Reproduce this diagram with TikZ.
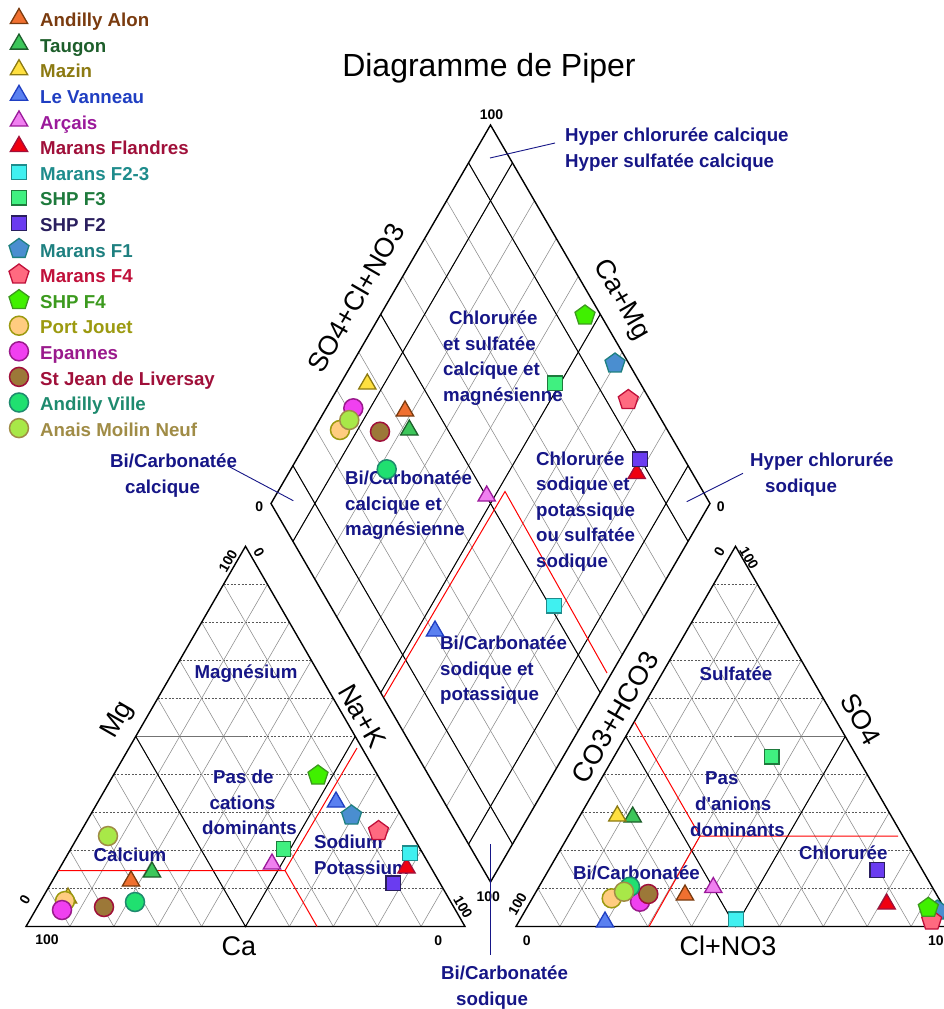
\documentclass[tikz,border=0pt]{standalone}
\usepackage{fontspec}
\setmainfont{Liberation Sans}
\usetikzlibrary{calc,shapes.geometric}
\definecolor{navyl}{RGB}{22,22,135}
\definecolor{AAc}{HTML}{7A3B0F}\definecolor{AAf}{HTML}{F07030}
\definecolor{TAc}{HTML}{1D5E2B}\definecolor{TAf}{HTML}{3CC65A}
\definecolor{MZc}{HTML}{8C7A12}\definecolor{MZf}{HTML}{FFE040}
\definecolor{LVc}{HTML}{1F3EC2}\definecolor{LVf}{HTML}{5A80F0}
\definecolor{ARc}{HTML}{9B1A9B}\definecolor{ARf}{HTML}{F080F0}
\definecolor{MFc}{HTML}{A0103A}\definecolor{MFf}{HTML}{F00010}
\definecolor{FTc}{HTML}{1E8C8C}\definecolor{FTf}{HTML}{40F0F0}
\definecolor{FXc}{HTML}{1E7A3C}\definecolor{FXf}{HTML}{40F080}
\definecolor{FYc}{HTML}{2A1F5E}\definecolor{FYf}{HTML}{6A3CF0}
\definecolor{FOc}{HTML}{1E8080}\definecolor{FOf}{HTML}{4A8ED0}
\definecolor{FQc}{HTML}{C0103A}\definecolor{FQf}{HTML}{FF6A80}
\definecolor{SQc}{HTML}{3C9A1E}\definecolor{SQf}{HTML}{40F000}
\definecolor{PJc}{HTML}{9C9A10}\definecolor{PJf}{HTML}{FFCC80}
\definecolor{EPc}{HTML}{9A1A8C}\definecolor{EPf}{HTML}{F040F0}
\definecolor{SJc}{HTML}{A0103A}\definecolor{SJf}{HTML}{9C7838}
\definecolor{AVc}{HTML}{1E8A6E}\definecolor{AVf}{HTML}{20E070}
\definecolor{AMc}{HTML}{A08C46}\definecolor{AMf}{HTML}{A8E848}
\newcommand\fLab{\fontsize{18.7}{25.6}\selectfont\bfseries}
\newcommand\fAxis{\fontsize{27}{30}\selectfont}
\newcommand\fNum{\fontsize{14}{16}\selectfont\bfseries}
\newcommand\fTitle{\fontsize{32}{36}\selectfont}
\tikzset{
  mtri/.style={regular polygon, regular polygon sides=3, minimum size=20pt, inner sep=0pt, line width=1.3pt, draw},
  msq/.style={rectangle, minimum size=14.5pt, inner sep=0pt, line width=1.3pt, draw},
  mpent/.style={regular polygon, regular polygon sides=5, minimum size=21pt, inner sep=0pt, line width=1.3pt, draw},
  mcirc/.style={circle, minimum size=19pt, inner sep=0pt, line width=1.5pt, draw},
  sAA/.style={mtri, draw=AAc, fill=AAf},
  sTA/.style={mtri, draw=TAc, fill=TAf},
  sMZ/.style={mtri, draw=MZc, fill=MZf},
  sLV/.style={mtri, draw=LVc, fill=LVf},
  sAR/.style={mtri, draw=ARc, fill=ARf},
  sMF/.style={mtri, draw=MFc, fill=MFf},
  sFT/.style={msq, draw=FTc, fill=FTf},
  sFX/.style={msq, draw=FXc, fill=FXf},
  sFY/.style={msq, draw=FYc, fill=FYf},
  sFO/.style={mpent, draw=FOc, fill=FOf},
  sFQ/.style={mpent, draw=FQc, fill=FQf},
  sSQ/.style={mpent, draw=SQc, fill=SQf},
  sPJ/.style={mcirc, draw=PJc, fill=PJf},
  sEP/.style={mcirc, draw=EPc, fill=EPf},
  sSJ/.style={mcirc, draw=SJc, fill=SJf},
  sAV/.style={mcirc, draw=AVc, fill=AVf},
  sAM/.style={mcirc, draw=AMc, fill=AMf},
  hgrid/.style={draw=black!65, dash pattern=on 2pt off 1.6pt, line width=0.6pt},
  dgrid/.style={draw=black!45, line width=0.55pt},
  midg/.style={draw=black!55, line width=0.9pt},
  frame/.style={draw=black, line width=1.4pt, line join=miter},
  blk/.style={draw=black, line width=1pt},
  redl/.style={draw=red, line width=1pt},
  ptr/.style={draw=navyl, line width=0.9pt},
  lab/.style={font=\fLab, text=navyl, inner sep=0pt, align=left},
  axl/.style={font=\fAxis, inner sep=0pt},
  num/.style={font=\fNum, inner sep=0pt},
}
\newcommand\mk[3]{\node[s#1] (#1#2) at (#3) {};}
\newcommand\legrow[3]{%
  \node[s#2] (lg#2) at (19,{18.5+25.6*#1}) {};
  \node[anchor=base west, font=\fLab, text=#2c, inner sep=0pt] (lt#2) at (40,{26.7+25.6*#1}) {#3};}
\begin{document}
\begin{tikzpicture}[x=1pt,y=-1pt]
\useasboundingbox (0,0) rectangle (944,1009);
\fill[white] (0,0) rectangle (944,1009);
% corner coordinates
\coordinate (LA) at (26,926.5);  \coordinate (LB) at (465,926.5);  \coordinate (LC) at (245.5,546.3);
\coordinate (RA) at (516,926.5); \coordinate (RB) at (955,926.5);  \coordinate (RC) at (735.5,546.3);
\coordinate (DB) at (490.5,882); \coordinate (DL) at (271,503.5);  \coordinate (DR) at (710,503.5); \coordinate (DT) at (490.5,125);
% ---------- grids
\foreach \i in {1,2,3,4,6,7,8,9}{
  \draw[hgrid] ($(LA)!\i/10!(LC)$) -- ($(LB)!\i/10!(LC)$);
  \draw[hgrid] ($(RA)!\i/10!(RC)$) -- ($(RB)!\i/10!(RC)$);
}
\foreach \i in {1,...,9}{
  \draw[dgrid] ($(LA)!\i/10!(LB)$) -- ($(LC)!\i/10!(LB)$);
  \draw[dgrid] ($(LB)!\i/10!(LA)$) -- ($(LC)!\i/10!(LA)$);
  \draw[dgrid] ($(RA)!\i/10!(RB)$) -- ($(RC)!\i/10!(RB)$);
  \draw[dgrid] ($(RB)!\i/10!(RA)$) -- ($(RC)!\i/10!(RA)$);
  \draw[dgrid] ($(DB)!\i/10!(DR)$) -- ($(DL)!\i/10!(DT)$);
  \draw[dgrid] ($(DB)!\i/10!(DL)$) -- ($(DR)!\i/10!(DT)$);
}
% mid lines
\coordinate (LM) at ($(LA)!0.5!(LC)$); \coordinate (LN) at ($(LB)!0.5!(LC)$);
\coordinate (LO) at ($(LA)!0.5!(LB)$); \coordinate (LP) at ($(LM)!0.5!(LN)$);
\coordinate (RM) at ($(RA)!0.5!(RC)$); \coordinate (RN) at ($(RB)!0.5!(RC)$);
\coordinate (RO) at ($(RA)!0.5!(RB)$); \coordinate (RP) at ($(RM)!0.5!(RN)$);
\draw[midg] (LM) -- (LP); \draw[hgrid] (LP) -- (LN);
\draw[hgrid] (RM) -- (RP); \draw[midg] (RP) -- (RN);
\draw[blk] (LM) -- (LO) -- (LN);
\draw[blk] (RM) -- (RO) -- (RN);
\foreach \f in {0.1,0.5,0.9}{
  \draw[blk] ($(DB)!\f!(DR)$) -- ($(DL)!\f!(DT)$);
  \draw[blk] ($(DB)!\f!(DL)$) -- ($(DR)!\f!(DT)$);
}
% frames
\draw[frame] (LA) -- (LB) -- (LC) -- cycle;
\draw[frame] (RA) -- (RB) -- (RC) -- cycle;
\draw[frame] (DB) -- (DR) -- (DT) -- (DL) -- cycle;
% red lines
\coordinate (rl1) at (58.2,870.5); \coordinate (rlP) at (285,870.5);
\coordinate (rl2) at (357,748);    \coordinate (rl3) at (317,926.5);
\draw[redl] (rl1) -- (rlP) -- (rl2); \draw[redl] (rlP) -- (rl3);
\coordinate (rd1) at (384,697); \coordinate (rd2) at (505,491.5); \coordinate (rd3) at (607,673);
\draw[redl] (rd1) -- (rd2) -- (rd3);
\coordinate (rr1) at (634.5,722); \coordinate (rrQ) at (700,836);
\coordinate (rr2) at (898,836);   \coordinate (rr3) at (649,926.5);
\draw[redl] (rr1) -- (rrQ) -- (rr2); \draw[redl] (rrQ) -- (rr3);
% title
\node[font=\fTitle, anchor=base, inner sep=0pt] (title) at (489,76.5) {Diagramme de Piper};
% axis labels
\node[axl, rotate=60]  (axSO) at (356,298) {SO4+Cl+NO3};
\node[axl, rotate=-60] (axCM) at (621,300) {Ca+Mg};
\node[axl, rotate=-60] (axNK) at (362,716) {Na+K};
\node[axl, rotate=60]  (axCO) at (615,717) {CO3+HCO3};
\node[axl, rotate=60]  (axMg) at (118,720) {Mg};
\node[axl, rotate=-60] (axS4) at (861,719) {SO4};
\node[axl] (axCa) at (239,946) {Ca};
\node[axl] (axCl) at (728,946) {Cl+NO3};
% numbers
\node[num] (n1) at (47,940) {100};
\node[num] (n2) at (438.3,940.7) {0};
\node[num, rotate=60] (n3) at (25,900) {0};
\node[num, rotate=60] (n4) at (228,561) {100};
\node[num, rotate=-60] (n5) at (259,552) {0};
\node[num, rotate=-60] (n6) at (463,907) {100};
\node[num, rotate=60] (n7) at (517.5,904) {100};
\node[num] (n8) at (526.7,940.7) {0};
\node[num, rotate=60] (n9) at (719.3,551.7) {0};
\node[num, rotate=-60] (n10) at (749,558) {100};
\node[num, anchor=west] (n11) at (928,940.7) {100};
\node[num] (n12) at (491.5,115) {100};
\node[num] (n13) at (488.3,896.7) {100};
\node[num] (n14) at (259.3,506.7) {0};
\node[num] (n15) at (720.7,506.7) {0};
% region labels
\node[lab, anchor=north west] (lD1) at (443,310.8) {\hspace*{6pt}Chlorurée\\et sulfatée\\calcique et\\magnésienne};
\node[lab, anchor=north west] (lD2) at (345,470.8) {Bi/Carbonatée\\calcique et\\magnésienne};
\node[lab, anchor=north west] (lD3) at (536,451.1) {Chlorurée\\sodique et\\potassique\\ou sulfatée\\sodique};
\node[lab, anchor=north west] (lD4) at (440,635.5) {Bi/Carbonatée\\sodique et\\potassique};
\node[lab, anchor=north west] (hyp1) at (565,127.8) {Hyper chlorurée calcique\\Hyper sulfatée calcique};
\node[lab, anchor=north west] (hyp2) at (750,452.8) {Hyper chlorurée\\\hspace*{15pt}sodique};
\node[lab, anchor=north west] (bcc) at (110,453.8) {Bi/Carbonatée\\\hspace*{15pt}calcique};
\node[lab, anchor=north west] (bcs) at (441,965.8) {Bi/Carbonatée\\\hspace*{15pt}sodique};
\node[lab, anchor=base] (lMg) at (246,678.7) {Magnésium};
\node[lab, anchor=north west] (lPc) at (202,769.8) {\hspace*{11pt}Pas de\\\hspace*{7.5pt}cations\\dominants};
\node[lab, anchor=base] (lCa) at (130,861.7) {Calcium};
\node[lab, anchor=north west] (lNa) at (314,834.8) {Sodium\\Potassium};
\node[lab, anchor=base] (lSu) at (736,680.7) {Sulfatée};
\node[lab, anchor=north west] (lPa) at (690,771.8) {\hspace*{15pt}Pas\\\hspace*{5pt}d\textquotesingle anions\\dominants};
\node[lab, anchor=base west] (lCl) at (799,859.7) {Chlorurée};
\node[lab, anchor=base east] (lBi) at (700,879.7) {Bi/Carbonatée};
% pointers
\coordinate (p1a) at (490,158); \coordinate (p1b) at (555,143);
\coordinate (p2a) at (686.7,501.7); \coordinate (p2b) at (743,473.3);
\coordinate (p3a) at (228,466); \coordinate (p3b) at (293.3,500.7);
\coordinate (p4a) at (490,844); \coordinate (p4b) at (490,955);
\draw[ptr] (p1a) -- (p1b); \draw[ptr] (p2a) -- (p2b);
\draw[ptr] (p3a) -- (p3b); \draw[ptr] (p4a) -- (p4b);
% data markers
\mk{AA}{L}{131,881}   \mk{AA}{R}{685,895}     \mk{AA}{D}{405,411}
\mk{TA}{L}{152,872}   \mk{TA}{R}{632.7,817}   \mk{TA}{D}{409.3,430}
\mk{MZ}{L}{68,898}    \mk{MZ}{R}{617.3,816}   \mk{MZ}{D}{367.3,384}
\mk{LV}{L}{336,802}   \mk{LV}{R}{605,922}     \mk{LV}{D}{435,631}
\mk{AR}{L}{272,864}   \mk{AR}{R}{713.3,887.5} \mk{AR}{D}{486.7,496}
\mk{MF}{L}{406.5,868} \mk{MF}{R}{886.7,904}   \mk{MF}{D}{636.7,473.5}
\mk{FT}{L}{410,853.3} \mk{FT}{R}{736,919.3}   \mk{FT}{D}{554,605.7}
\mk{FX}{L}{283.5,849} \mk{FX}{R}{771.7,756.7} \mk{FX}{D}{555,383.3}
\mk{FY}{L}{393.3,883.3} \mk{FY}{R}{877.3,870} \mk{FY}{D}{640,459.3}
\mk{FO}{L}{351.5,815.5} \mk{FO}{R}{937.3,910.5} \mk{FO}{D}{615,363.5}
\mk{FQ}{L}{378.5,831}   \mk{FQ}{R}{931.7,920.5} \mk{FQ}{D}{628.3,400}
\mk{SQ}{L}{318,775.5}   \mk{SQ}{R}{928.3,907.8} \mk{SQ}{D}{585,315.5}
\mk{PJ}{L}{65,901}    \mk{PJ}{R}{611.7,898.3} \mk{PJ}{D}{340,430}
\mk{EP}{L}{62,910}    \mk{EP}{R}{640,901.7}   \mk{EP}{D}{353.3,408.3}
\mk{SJ}{L}{104,907}   \mk{SJ}{R}{648.3,894}   \mk{SJ}{D}{380,431.7}
\mk{AV}{L}{135,902}   \mk{AV}{R}{630,886.7}   \mk{AV}{D}{386.7,469.3}
\mk{AM}{L}{108,836}   \mk{AM}{R}{624,891.7}   \mk{AM}{D}{349.3,420}
% legend
\legrow{0}{AA}{Andilly Alon}
\legrow{1}{TA}{Taugon}
\legrow{2}{MZ}{Mazin}
\legrow{3}{LV}{Le Vanneau}
\legrow{4}{AR}{Arçais}
\legrow{5}{MF}{Marans Flandres}
\legrow{6}{FT}{Marans F2-3}
\legrow{7}{FX}{SHP F3}
\legrow{8}{FY}{SHP F2}
\legrow{9}{FO}{Marans F1}
\legrow{10}{FQ}{Marans F4}
\legrow{11}{SQ}{SHP F4}
\legrow{12}{PJ}{Port Jouet}
\legrow{13}{EP}{Epannes}
\legrow{14}{SJ}{St Jean de Liversay}
\legrow{15}{AV}{Andilly Ville}
\legrow{16}{AM}{Anais Moilin Neuf}
\end{tikzpicture}
\end{document}
